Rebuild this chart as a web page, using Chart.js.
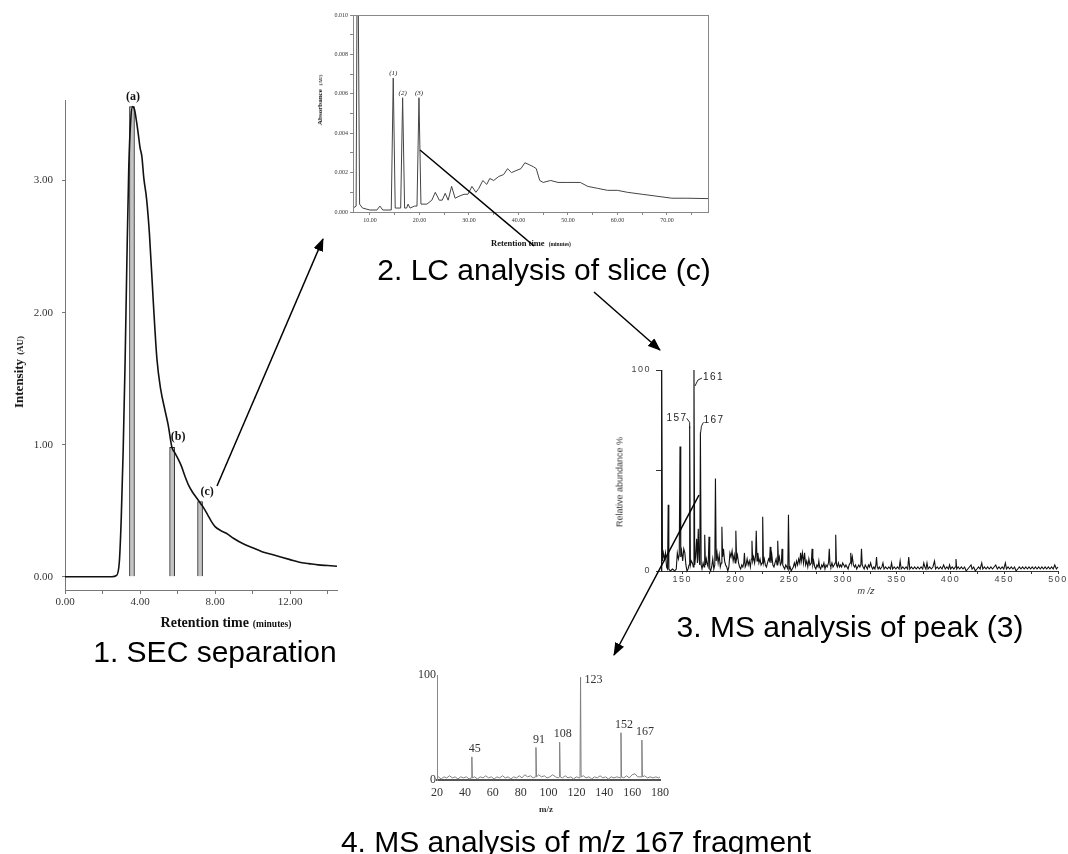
<!DOCTYPE html>
<html><head><meta charset="utf-8">
<script src="https://cdn.jsdelivr.net/npm/chart.js@4.4.0/dist/chart.umd.min.js"></script>
<style>
html,body{margin:0;padding:0;background:#fff;}
#stage{position:relative;width:1068px;height:854px;overflow:hidden;background:#fff;}
canvas.cv{position:absolute;}
.t{position:absolute;white-space:nowrap;transform:translate(-50%,-50%);line-height:1;color:#111;}
.r{transform:translate(-50%,-50%) rotate(-90deg);}
.serif{font-family:'Liberation Serif','Times New Roman',serif;}
.sans{font-family:'Liberation Sans',Arial,sans-serif;}
.cap{font-family:'Liberation Sans',Arial,sans-serif;font-size:30px;color:#000;}
svg{position:absolute;left:0;top:0;}
</style></head>
<body><div id="stage">
<canvas id="c1" class="cv" width="345" height="560" style="left:0;top:80px"></canvas>
<canvas id="c2" class="cv" width="400" height="235" style="left:320px;top:0"></canvas>
<canvas id="c3" class="cv" width="468" height="270" style="left:600px;top:340px"></canvas>
<canvas id="c4" class="cv" width="280" height="160" style="left:400px;top:650px"></canvas>

<div class="t r serif" style="left:18px;top:372px;font-weight:bold"><span style="font-size:13px">Intensity</span> <span style="font-size:9px">(AU)</span></div>
<div class="t serif" style="left:226px;top:622px;font-weight:bold"><span style="font-size:14px">Retention time</span> <span style="font-size:9.5px">(minutes)</span></div>
<div class="t cap" style="left:215px;top:652px">1. SEC separation</div>

<div class="t r serif" style="left:317px;top:100px;font-weight:bold"><span style="font-size:7px">Absorbance</span> <span style="font-size:5px">(AU)</span></div>
<div class="t serif" style="left:531px;top:241px;font-weight:bold"><span style="font-size:8.5px">Retention time</span> <span style="font-size:5.5px">(minutes)</span></div>
<div class="t cap" style="left:544px;top:270px">2. LC analysis of slice (c)</div>

<div class="t r sans" style="left:620px;top:482px;font-size:9px;color:#333">Relative abundance %</div>
<div class="t sans" style="left:866px;top:591px;font-size:9px;font-style:italic;color:#333">m /z</div>
<div class="t cap" style="left:850px;top:627px">3. MS analysis of peak (3)</div>

<div class="t serif" style="left:546px;top:809px;font-size:9px;font-weight:bold;color:#333">m/z</div>
<div class="t cap" style="left:576px;top:842px">4. MS analysis of m/z 167 fragment</div>

<svg width="1068" height="854">
<defs><marker id="ah" markerWidth="13" markerHeight="10" refX="12" refY="5" orient="auto" markerUnits="userSpaceOnUse"><path d="M0,0 L13,5 L0,10 z" fill="#000"/></marker></defs>
<line x1="217" y1="486" x2="323" y2="239" stroke="#000" stroke-width="1.5" marker-end="url(#ah)"/>
<line x1="420" y1="150" x2="534" y2="246" stroke="#000" stroke-width="1.5"/>
<line x1="594" y1="292" x2="660" y2="350" stroke="#000" stroke-width="1.5" marker-end="url(#ah)"/>
<line x1="699" y1="495" x2="614" y2="655" stroke="#000" stroke-width="1.5" marker-end="url(#ah)"/>
</svg>
</div>
<script>
// ---------- 1. SEC separation ----------
const secTime = [0,1,2,2.5,2.75,2.9,3.0,3.1,3.2,3.3,3.4,3.5,3.6,3.7,3.8,3.9,4.0,4.1,4.2,4.35,4.5,4.7,4.9,5.1,5.3,5.5,5.7,5.85,6.0,6.2,6.4,6.6,6.8,7.0,7.2,7.4,7.6,7.8,8.0,8.3,8.6,9.0,9.5,10.0,10.5,11.0,11.5,12.0,12.5,13.0,13.5,14.0,14.5];
const secIntensity = [0,0,0,0,0.01,0.12,0.45,0.95,1.6,2.4,3.1,3.45,3.56,3.54,3.46,3.36,3.25,3.18,3.02,2.86,2.6,2.1,1.65,1.42,1.28,1.15,0.98,0.94,0.9,0.84,0.76,0.69,0.64,0.6,0.56,0.52,0.47,0.42,0.38,0.35,0.33,0.29,0.25,0.22,0.19,0.17,0.15,0.13,0.11,0.1,0.09,0.085,0.08];
const sliceTime = [3.57,5.71,7.2];
const sliceHeight = [3.56,0.98,0.57];
const sliceLabel = ['(a)','(b)','(c)'];
const secXTicks = [0,2,4,6,8,10,12,14];
const secXLabels = ['0.00','','4.00','','8.00','','12.00',''];
const secYTicks = [0,1,2,3];
const secYLabels = ['0.00','1.00','2.00','3.00'];

// ---------- 2. LC analysis ----------
const lcTime = [6.6,7.2,7.4,7.6,7.9,8.5,10,11.4,12.0,12.6,14.3,14.7,15.1,16.2,16.6,17.0,17.4,17.7,18.1,19.0,19.5,19.9,20.3,21.5,22.5,23.2,24.0,24.6,25.2,25.8,26.5,27.2,28.0,29.0,29.8,30.6,31.4,32.0,32.8,33.6,34.2,35.0,36.0,37.0,37.8,38.6,39.5,40.5,41.3,42.2,43.0,43.6,44.3,45.0,46.5,48.0,50.0,52.5,54.0,56.0,58.0,60.0,62.0,65.0,68.0,71.0,74.0,78.3];
const lcAbs = [0.0002,0.0003,0.012,0.012,0.0004,0.0002,0.0001,0.0001,0.0003,0.0001,0.0001,0.0068,0.0002,0.0002,0.0058,0.0002,0.0002,0.0004,0.0002,0.0003,0.0003,0.0058,0.0004,0.0004,0.0006,0.001,0.0006,0.0006,0.00095,0.0006,0.0013,0.0007,0.0008,0.0009,0.0009,0.0013,0.001,0.0012,0.0016,0.0014,0.0017,0.0016,0.0018,0.0019,0.0022,0.002,0.0021,0.0022,0.0025,0.0024,0.0023,0.0022,0.0016,0.0015,0.0016,0.0015,0.0015,0.0015,0.0013,0.0012,0.0011,0.0011,0.001,0.0009,0.0008,0.0007,0.0007,0.00068];
const lcPeakTime = [14.7,16.6,19.9];
const lcPeakHeight = [0.0068,0.0058,0.0058];
const lcPeakLabel = ['(1)','(2)','(3)'];
const lcXTicks = [10,15,20,25,30,35,40,45,50,55,60,65,70,75];
const lcXLabels = ['10.00','','20.00','','30.00','','40.00','','50.00','','60.00','','70.00',''];
const lcYTicks = [0,0.001,0.002,0.003,0.004,0.005,0.006,0.007,0.008,0.009,0.010];
const lcYLabels = ['0.000','','0.002','','0.004','','0.006','','0.008','','0.010'];

// ---------- 3. MS analysis of peak (3) ----------
const msTrace = [
[130.5,0],[131,100],[131.7,5],[132.5,9],[133.5,6],[134.5,9],[135.5,2],[136.4,1],[137,33],[137.6,1],[139,0],[141,1],[143,0],[144.5,1],[145.5,9],[146.5,6],[147.3,8],[148,62],[148.7,7],[149.5,10],[150.5,5],[151.5,11],[152.5,9],[153.5,3],[154.5,0],[155.5,1],[156.4,3],[157,72],[157.7,3],[158.5,5],[159.5,4],[160.4,2],[161,100],[161.7,3],[162.5,7],[163.5,16],[164.2,4],[165,21],[165.7,6],[166.4,3],[167,69],[167.7,3],[168.5,1],[169.5,4],[170.4,2],[171,18],[171.7,3],[172.5,6],[173.5,3],[174.2,2],[175,17],[175.7,1],[176.5,0],[177.5,2],[178.5,6],[179.5,1],[180.4,3],[181,46],[181.7,5],[182.5,9],[183.5,4],[184.5,8],[185.5,2],[186.4,4],[187,22],[187.7,7],[188.5,11],[189.5,5],[190.5,3],[191.5,2],[192.5,0],[193.5,2],[194.5,9],[195.5,7],[196.5,10],[197.5,5],[198.5,8],[199.4,4],[200,20],[200.7,6],[201.5,8],[202.5,4],[203.5,2],[204.5,1],[205.5,3],[206.5,2],[207.4,4],[208,9],[208.7,2],[209.5,3],[210.5,6],[211.5,3],[212.5,5],[213.5,2],[214.4,6],[215,15],[215.7,5],[216.5,7],[217.5,4],[218.4,8],[219,20],[219.7,5],[220.5,9],[221.5,4],[222.5,6],[223.5,3],[224.4,4],[225,27],[225.7,4],[226.5,6],[227.5,3],[228.5,2],[229.5,4],[230.5,6],[231.4,5],[232,12],[232.7,4],[233.5,8],[234.5,3],[235.5,2],[236.5,4],[237.5,6],[238.4,3],[239,15],[239.7,5],[240.5,7],[241.5,3],[242.4,4],[243,11],[243.7,3],[244.5,2],[245.5,1],[246.5,3],[247.5,2],[248.4,1],[249,28],[249.7,1],[250.5,2],[251.5,0],[252.5,1],[253.5,2],[254.5,4],[255.5,2],[256.5,5],[257.5,3],[258.5,6],[259.5,4],[260.3,9],[261,5],[262,9],[263,4],[264,9],[265,3],[266,5],[267,2],[268,6],[269,3],[270.3,4],[271,11],[271.7,3],[272.5,5],[273.5,2],[274.5,1],[275.5,3],[276.5,2],[277.3,5],[278,2],[279,1],[280,3],[281,2],[282,4],[283,1],[284,3],[285,2],[286.3,4],[287,11],[287.7,3],[288.5,2],[289.5,4],[290.5,2],[291.5,3],[292.4,4],[293,18],[293.7,3],[294.5,2],[295.5,4],[296.5,2],[297.5,3],[298.5,2],[299.5,4],[300.5,3],[301.5,2],[302.5,3],[303.5,2],[304.5,1],[305.5,3],[306.4,4],[307,9],[307.7,4],[308.5,7],[309.5,3],[310.5,2],[311.5,3],[312.5,1],[313.5,2],[314.5,3],[315.5,2],[316.4,3],[317,11],[317.7,3],[318.5,2],[319.5,1],[320.5,3],[321.5,2],[322.5,1],[323.5,3],[324.5,2],[325.5,4],[326.5,2],[327.5,1],[328.5,2],[329.5,1],[330.4,3],[331,7],[331.7,2],[332.5,1],[333.5,2],[334.5,1],[336,2],[337,4],[338,1],[339.5,2],[341,1],[342.5,2],[344,1],[345,4],[346,1],[347.5,2],[349,1],[350.5,2],[352,1],[353,5],[354,1],[355.5,2],[357,1],[358.5,2],[360,1],[361,7],[362,1],[363.5,2],[365,1],[366.5,2],[368,1],[369.5,2],[371,1],[372.5,2],[374,1],[375,4],[376,2],[377,1],[378,4],[379,1],[380.5,2],[382,1],[383.5,2],[385,5],[386,1],[387.5,2],[389,1],[390.5,2],[392,1],[393.5,3],[395,1],[396.5,2],[398,1],[399,3],[400,1],[401.5,2],[403,1],[404.3,2],[405,6],[405.7,1],[407,2],[408.5,1],[410,2],[411.5,1],[413,2],[414.5,0],[416,1],[417.5,2],[419,3],[420,1],[421.5,2],[423,0],[424.5,1],[426,2],[427.5,1],[429,4],[430,1],[431.5,2],[433,1],[434.5,2],[436,1],[437.5,2],[439,1],[440.5,2],[442,3],[443.5,1],[445,2],[446.5,1],[448,2],[449.5,1],[451,4],[452,1],[453.5,2],[455,1],[456.5,2],[458,1],[459.5,2],[461,0],[462.5,1],[464,2],[465.5,1],[467,2],[468.5,1],[470,2],[471.5,1],[473,2],[474.5,1],[476,2],[477.5,1],[479,2],[480.5,1],[482,2],[483.5,1],[485,2],[486.5,1],[488,2],[489.5,1],[491,2],[492.5,1],[494,2],[495.5,1],[497,3],[498.5,1],[500,2]
];
const msLabelMz = [157,161,167];
const msXTicks = [150,175,200,225,250,275,300,325,350,375,400,425,450,475,500];
const msYTicks = [0,50,100];
const msYLabels = ['0','','100'];

// ---------- 4. MS of m/z 167 fragment ----------
const fragTrace = [[20,2],[21,3],[23,1],[25,3],[27,2],[29,4],[31,2],[33,3],[35,1],[37,3],[39,2],[41,3],[43,1],[44.6,2],[45,22],[45.4,2],[47,3],[49,1],[51,3],[53,2],[55,4],[57,2],[59,3],[61,1],[63,3],[65,2],[67,4],[69,2],[71,3],[73,1],[75,3],[77,2],[79,4],[81,2],[83,5],[85,3],[87,4],[89,2],[90.6,3],[91,31],[91.4,3],[93,5],[95,3],[97,4],[99,2],[101,3],[103,5],[105,3],[107,2],[107.6,3],[108,36],[108.4,3],[110,2],[112,4],[114,2],[116,3],[118,1],[120,3],[122,2],[122.6,3],[123,98],[123.4,3],[125,4],[127,2],[129,3],[131,1],[133,3],[135,2],[137,4],[139,2],[141,3],[143,1],[145,3],[147,2],[149,3],[151.6,2],[152,45],[152.4,3],[154,2],[156,4],[158,2],[160,5],[162,6],[164,3],[166.6,3],[167,38],[167.4,3],[169,4],[171,2],[173,3],[175,2],[177,3],[179,2],[180,3]];
const fragLabelMz = [45,91,108,123,152,167];
const fragXTicks = [20,40,60,80,100,120,140,160,180];
const fragYTicks = [0,100];

// ---------- helpers ----------
function sizeAxis(sz, horiz){ return function(s){ if(horiz) s.height=sz; else s.width=sz; s.paddingLeft=0; s.paddingRight=0; s.paddingTop=0; s.paddingBottom=0; }; }
function setTicks(vals){ return function(s){ s.ticks = vals.map(v=>({value:v})); }; }
function labelFrom(ticks, labels){ return function(v){ const i = ticks.findIndex(t=>Math.abs(t-v)<1e-9); return i>=0 ? labels[i] : ''; }; }
const SERIF = "'Liberation Serif','Times New Roman',serif";
const SANS = "'Liberation Sans',Arial,sans-serif";
const base = {responsive:false, animation:false, devicePixelRatio:1, maintainAspectRatio:false,
  plugins:{legend:{display:false}, tooltip:{enabled:false}}};

// Chart 1
new Chart(document.getElementById('c1'), {
  type:'line',
  data:{datasets:[
    {type:'line', data:secTime.map((t,i)=>({x:t,y:secIntensity[i]})), borderColor:'#111', borderWidth:1.6, pointRadius:0, cubicInterpolationMode:'monotone', fill:false, order:1},
    {type:'bar', data:sliceTime.map((t,i)=>({x:t,y:sliceHeight[i]})), backgroundColor:'#c4c4c4', borderColor:'#222', borderWidth:1, barThickness:5, order:2}
  ]},
  options:Object.assign({}, base, {
    layout:{padding:{left:25,right:8,top:20,bottom:20}},
    scales:{
      x:{type:'linear', min:0, max:14.5, offset:false, afterFit:sizeAxis(30,true), afterBuildTicks:setTicks(secXTicks),
         grid:{offset:false, drawOnChartArea:false, drawTicks:true, tickLength:4, color:'#777'}, border:{color:'#777', width:1},
         ticks:{padding:2, color:'#333', maxRotation:0, autoSkip:false, font:{family:SERIF, size:11}, callback:labelFrom(secXTicks, secXLabels)}},
      y:{type:'linear', min:-0.1, max:3.61, afterFit:sizeAxis(40,false), afterBuildTicks:setTicks(secYTicks),
         grid:{drawOnChartArea:false, drawTicks:true, tickLength:3, color:'#777'}, border:{color:'#777', width:1},
         ticks:{padding:9, color:'#333', font:{family:SERIF, size:11}, callback:labelFrom(secYTicks, secYLabels)}}
    }
  }),
  plugins:[{id:'sliceLabels', afterDatasetsDraw(chart){
    const {ctx, scales:{x,y}} = chart; const dx=[1,6,7];
    ctx.save(); ctx.font='bold 12px '+SERIF; ctx.fillStyle='#111'; ctx.textAlign='center'; ctx.textBaseline='middle';
    sliceTime.forEach((t,i)=>ctx.fillText(sliceLabel[i], x.getPixelForValue(t)+dx[i], y.getPixelForValue(sliceHeight[i])-10));
    ctx.restore(); }}]
});

// Chart 2
new Chart(document.getElementById('c2'), {
  type:'line',
  data:{datasets:[{data:lcTime.map((t,i)=>({x:t,y:lcAbs[i]})), borderColor:'#444', borderWidth:1, pointRadius:0, tension:0, fill:false}]},
  options:Object.assign({}, base, {
    layout:{padding:{left:13,right:12,top:15,bottom:7}},
    scales:{
      x:{type:'linear', min:6.57, max:78.3, afterFit:sizeAxis(16,true), afterBuildTicks:setTicks(lcXTicks),
         grid:{drawOnChartArea:false, drawTicks:true, tickLength:3, color:'#888'}, border:{color:'#888', width:1},
         ticks:{padding:2, color:'#333', maxRotation:0, autoSkip:false, font:{family:SERIF, size:6}, callback:labelFrom(lcXTicks, lcXLabels)}},
      y:{type:'linear', min:0, max:0.010, afterFit:sizeAxis(20,false), afterBuildTicks:setTicks(lcYTicks),
         grid:{drawOnChartArea:false, drawTicks:true, tickLength:3, color:'#888'}, border:{color:'#888', width:1},
         ticks:{padding:2, color:'#333', autoSkip:false, font:{family:SERIF, size:6}, callback:labelFrom(lcYTicks, lcYLabels)}}
    }
  }),
  plugins:[{id:'frame', afterDraw(chart){
    const {ctx, chartArea:a, scales:{x,y}} = chart;
    ctx.save(); ctx.strokeStyle='#888'; ctx.lineWidth=1; ctx.strokeRect(a.left+0.5, a.top+0.5, a.right-a.left, a.bottom-a.top);
    ctx.font='italic 7px '+SERIF; ctx.fillStyle='#222'; ctx.textAlign='center'; ctx.textBaseline='middle';
    lcPeakTime.forEach((t,i)=>ctx.fillText(lcPeakLabel[i], x.getPixelForValue(t), y.getPixelForValue(lcPeakHeight[i])-5));
    ctx.restore(); }}]
});

// Chart 3
new Chart(document.getElementById('c3'), {
  type:'line',
  data:{datasets:[{data:msTrace.map(p=>({x:p[0],y:p[1]})), borderColor:'#111', borderWidth:1.1, pointRadius:0, tension:0, fill:false, clip:4}]},
  options:Object.assign({}, base, {
    layout:{padding:{left:31,right:10,top:30,bottom:21}},
    scales:{
      x:{type:'linear', min:130.3, max:500, afterFit:sizeAxis(18,true), afterBuildTicks:setTicks(msXTicks),
         grid:{drawOnChartArea:false, drawTicks:true, tickLength:3, color:'#333'}, border:{color:'#333', width:1},
         ticks:{padding:0, color:'#444', maxRotation:0, autoSkip:false, font:{family:SANS, size:9}, callback:(v)=> (v%50===0 ? String(v) : '')}},
      y:{type:'linear', min:0, max:100, afterFit:sizeAxis(30,false), afterBuildTicks:setTicks(msYTicks),
         grid:{drawOnChartArea:false, drawTicks:true, tickLength:5, color:'#333'}, border:{color:'#333', width:1},
         ticks:{padding:5, color:'#444', font:{family:SANS, size:9}, callback:labelFrom(msYTicks, msYLabels)}}
    }
  }),
  plugins:[{id:'spacing', beforeDraw(chart){ chart.ctx.letterSpacing='1.5px'; }, afterDraw(chart){ chart.ctx.letterSpacing='0px'; },
    afterDatasetsDraw(chart){
      const {ctx, scales:{x,y}} = chart;
      ctx.save(); ctx.font='10px '+SANS; ctx.fillStyle='#222'; ctx.strokeStyle='#222'; ctx.lineWidth=1; ctx.textBaseline='middle';
      msLabelMz.forEach(m=>{
        const p = msTrace.find(q=>q[0]===m); const px=x.getPixelForValue(p[0]), py=y.getPixelForValue(p[1]);
        let pts, tx, ty, al;
        if(m===161){ pts=[[px+1,py+16],[px+4,py+10],[px+8,py+8]]; tx=px+9; ty=py+7; al='left'; }
        else if(m===157){ pts=[[px-3,py-8],[px,py-4],[px,py+2]]; tx=px-2; ty=py-8; al='right'; }
        else { pts=[[px,py+2],[px+1,py-6],[px+3,py-10]]; tx=px+3; ty=py-12; al='left'; }
        ctx.beginPath(); ctx.moveTo(pts[0][0],pts[0][1]); pts.slice(1).forEach(q=>ctx.lineTo(q[0],q[1])); ctx.stroke();
        ctx.textAlign=al; ctx.fillText(String(m), tx, ty);
      });
      ctx.restore(); }}]
});

// Chart 4
new Chart(document.getElementById('c4'), {
  type:'line',
  data:{datasets:[{data:fragTrace.map(p=>({x:p[0],y:p[1]})), borderColor:'#808080', borderWidth:1, pointRadius:0, tension:0, fill:false, clip:4}]},
  options:Object.assign({}, base, {
    layout:{padding:{left:15,right:20,top:25,bottom:8}},
    scales:{
      x:{type:'linear', min:20, max:180, afterFit:sizeAxis(22,true), afterBuildTicks:setTicks(fragXTicks),
         grid:{drawOnChartArea:false, drawTicks:false}, border:{color:'#555', width:2},
         ticks:{padding:6, color:'#333', maxRotation:0, autoSkip:false, font:{family:SERIF, size:12}}},
      y:{type:'linear', min:0, max:100, afterFit:sizeAxis(22,false), afterBuildTicks:setTicks(fragYTicks),
         grid:{drawOnChartArea:false, drawTicks:false}, border:{color:'#888', width:1},
         ticks:{padding:1, color:'#333', font:{family:SERIF, size:12}, callback:(v)=>String(v)}}
    }
  }),
  plugins:[{id:'fragLabels', afterDatasetsDraw(chart){
    const {ctx, scales:{x,y}} = chart;
    ctx.save(); ctx.font='12px '+SERIF; ctx.fillStyle='#333'; ctx.textAlign='center'; ctx.textBaseline='middle';
    fragLabelMz.forEach(m=>{
      const p = fragTrace.find(q=>q[0]===m); const px=x.getPixelForValue(p[0]), py=y.getPixelForValue(p[1]);
      if(m===123){ ctx.fillText(String(m), px+13, py+3); }
      else { ctx.fillText(String(m), px+3, py-8); }
    });
    ctx.restore(); }}]
});
</script>
</body></html>
